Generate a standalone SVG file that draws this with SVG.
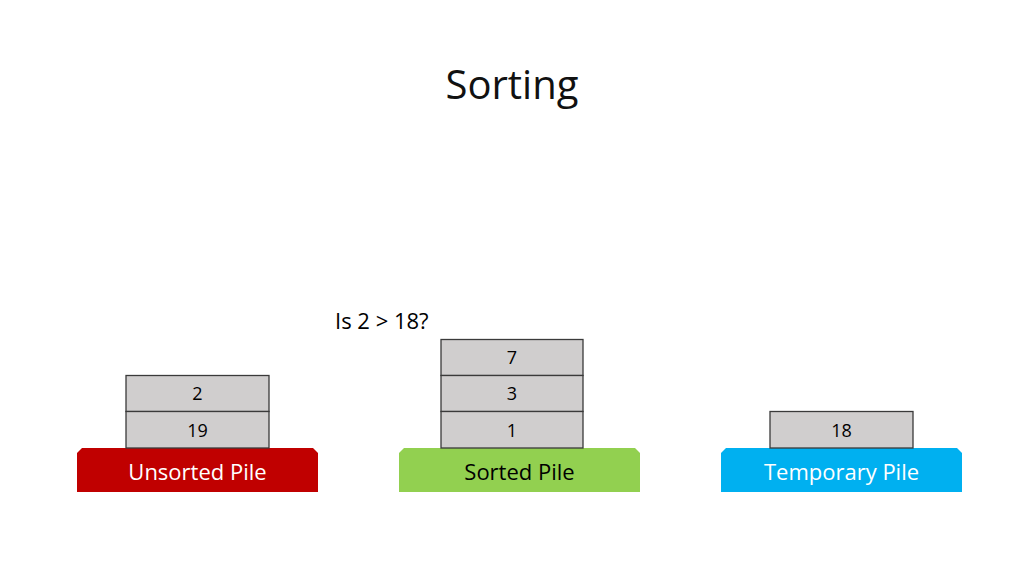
<svg xmlns="http://www.w3.org/2000/svg" width="1024" height="576" viewBox="0 0 1024 576">
<style>
text { font-family: "Open Sans", "Liberation Sans", sans-serif; }
.box { fill: #D0CECE; stroke: #3A3A3A; stroke-width: 1.3; }
.num { font-size: 18px; fill: #000; text-anchor: middle; }
.lbl { font-size: 22px; text-anchor: middle; }
</style>
<rect width="1024" height="576" fill="#FFFFFF"/>
<text x="512" y="99" font-size="40" text-anchor="middle" fill="#111">Sorting</text>
<text x="335" y="329" font-size="22" fill="#000">Is 2 &gt; 18?</text>

<g id="unsorted-pile">
  <path d="M82,448 H313 L318,453 V492 H77 V453 Z" fill="#C00000"/>
  <text class="lbl" x="197.5" y="480" fill="#FFFFFF">Unsorted Pile</text>
</g>
<g id="unsorted-2">
  <rect class="box" x="126" y="375.5" width="143" height="36"/>
  <text class="num" x="197.5" y="400">2</text>
</g>
<g id="unsorted-19">
  <rect class="box" x="126" y="411.5" width="143" height="36.5"/>
  <text class="num" x="197.5" y="437">19</text>
</g>

<g id="sorted-pile">
  <path d="M404,448 H635 L640,453 V492 H399 V453 Z" fill="#92D050"/>
  <text class="lbl" x="519.5" y="480" fill="#000000">Sorted Pile</text>
</g>
<g id="sorted-7">
  <rect class="box" x="441" y="339.5" width="142" height="36"/>
  <text class="num" x="512" y="364">7</text>
</g>
<g id="sorted-3">
  <rect class="box" x="441" y="375.5" width="142" height="36"/>
  <text class="num" x="512" y="400">3</text>
</g>
<g id="sorted-1">
  <rect class="box" x="441" y="411.5" width="142" height="36.5"/>
  <text class="num" x="512" y="437">1</text>
</g>

<g id="temporary-pile">
  <path d="M726,448 H957 L962,453 V492 H721 V453 Z" fill="#00B0F0"/>
  <text class="lbl" x="841.5" y="480" fill="#FFFFFF">Temporary Pile</text>
</g>
<g id="temporary-18">
  <rect class="box" x="770" y="411.5" width="143" height="36.5"/>
  <text class="num" x="841.5" y="437">18</text>
</g>

<g id="connectors"></g>
</svg>
